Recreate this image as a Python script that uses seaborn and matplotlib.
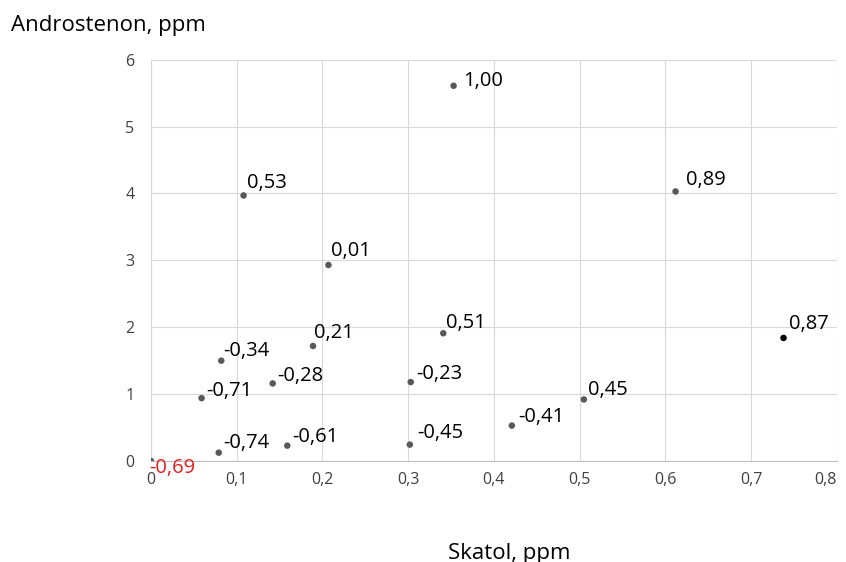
import matplotlib
matplotlib.use("Agg")
import matplotlib.pyplot as plt
import seaborn as sns
import pandas as pd

# Skatol (x) vs Androstenon (y), each point labelled with a correlation value
skatol = [0.353, 0.108, 0.207, 0.612, 0.738, 0.082, 0.189, 0.341, 0.059,
          0.142, 0.303, 0.079, 0.159, 0.302, 0.0, 0.421, 0.505]
androstenon = [5.61, 3.97, 2.93, 4.03, 1.84, 1.50, 1.72, 1.91, 0.94,
               1.16, 1.18, 0.125, 0.23, 0.245, 0.0, 0.53, 0.92]
labels = ["1,00", "0,53", "0,01", "0,89", "0,87", "-0,34", "0,21", "0,51", "-0,71",
          "-0,28", "-0,23", "-0,74", "-0,61", "-0,45", "-0,69", "-0,41", "0,45"]
point_group = ["grey"] * 4 + ["black"] + ["grey"] * 12

df = pd.DataFrame({"skatol": skatol, "androstenon": androstenon,
                   "label": labels, "grp": point_group})

# label offsets from the point, in pixels (right, up) - the labels were nudged by hand
label_offset = {"1,00": (10, 0), "0,53": (3, 7), "0,01": (3, 9), "0,89": (10, 6),
                "0,87": (5, 9), "-0,34": (2, 5), "0,21": (1, 8), "0,51": (3, 5),
                "-0,71": (5, 2), "-0,28": (5, 2), "-0,23": (6, 3), "-0,74": (5, 5),
                "-0,61": (5, 4), "-0,45": (7, 7), "-0,69": (-2, -12), "-0,41": (6, 4),
                "0,45": (4, 4)}

sns.set_style("whitegrid")
plt.rcParams["font.family"] = ["Open Sans", "DejaVu Sans"]

fig = plt.figure(figsize=(8.46, 5.62), dpi=100)
ax = fig.add_axes([0.1785, 0.1797, 0.8105, 0.7141])

sns.scatterplot(data=df, x="skatol", y="androstenon", hue="grp",
                palette={"grey": "#595959", "black": "#000000"},
                s=22, linewidth=0, legend=False, ax=ax, zorder=3)

for x, y, t in zip(df["skatol"], df["androstenon"], df["label"]):
    dx, dy = label_offset[t]
    col = "#e0201b" if t == "-0,69" else "#000000"
    ax.annotate(t, (x, y), xytext=(dx * 0.72, dy * 0.72), textcoords="offset points",
                ha="left", va="baseline", fontsize=14.5, color=col, zorder=4,
                annotation_clip=False)

ax.set_xlim(0, 0.8)
ax.set_ylim(0, 6)
ax.set_xticks([i / 10 for i in range(9)])
ax.set_xticklabels([f"{i / 10:.1f}".replace(".", ",") if i else "0" for i in range(9)])
ax.get_xticklabels()[-1].set_ha("right")  # last label kept inside the picture
ax.set_yticks(range(7))
ax.tick_params(axis="both", labelsize=11.5, colors="#404040", length=0)
ax.tick_params(axis="x", pad=8)
ax.tick_params(axis="y", pad=12)
ax.grid(True, color="#d9d9d9", linewidth=0.8)
for side in ["top", "right"]:
    ax.spines[side].set_visible(False)
ax.spines["left"].set_color("#d9d9d9")
ax.spines["bottom"].set_color("#bfbfbf")
ax.set_xlabel("")
ax.set_ylabel("")

fig.text(0.013, 0.954, "Androstenon, ppm", fontsize=16, ha="left", va="center", color="#000000")
fig.text(0.6017, 0.016, "Skatol, ppm", fontsize=16, ha="center", va="center", color="#000000")

fig.savefig("out.png", dpi=100)
